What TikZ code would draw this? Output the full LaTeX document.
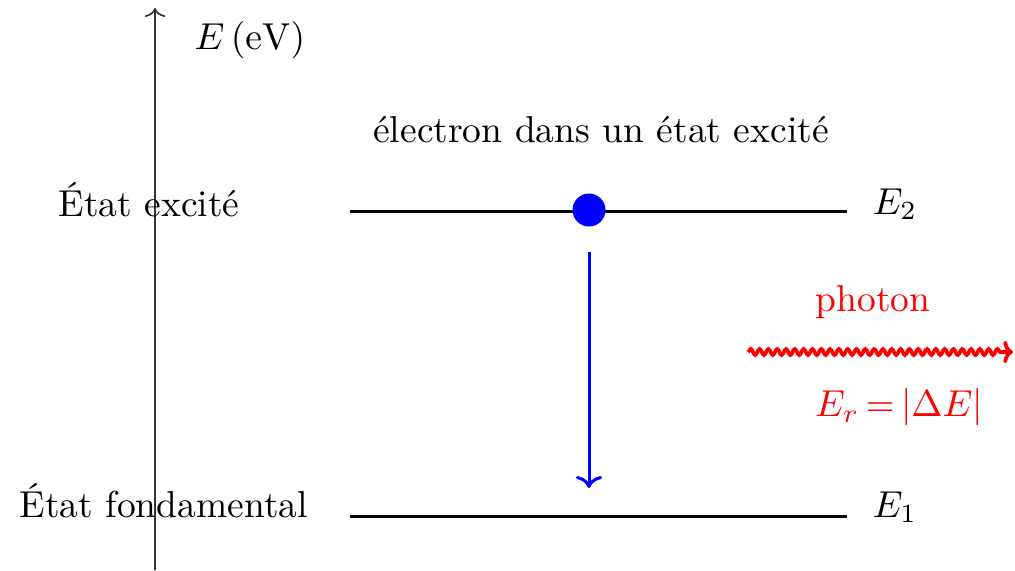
\documentclass[tikz,border=0pt]{standalone}
\usetikzlibrary{decorations.pathmorphing,arrows.meta}
\begin{document}
\begin{tikzpicture}[x=0.2667pt,y=-0.2667pt,
  level/.style={line width=0.8pt,black},
  lbl/.style={inner sep=0pt,anchor=center},
  photonpath/.style={red,line width=1pt,decorate,decoration={snake,amplitude=0.8pt,segment length=2.35pt,post length=2.5pt}}]
\useasboundingbox (0,0) rectangle (1015,570);
% axis
\coordinate (axb) at (155,570);
\coordinate (axt) at (155,8);
\draw[black!80,line width=0.45pt,-{To[length=2.4pt,width=5.5pt]}] (axb) -- (axt);
\node[lbl] (elab) at (250,40) {$E\,(\mathrm{eV})$};
\node[lbl] (title) at (601,130) {électron dans un état excité};
% levels
\coordinate (e2l) at (350,211);
\coordinate (e2r) at (847,211);
\coordinate (e1l) at (350,516);
\coordinate (e1r) at (847,516);
\draw[level] (e2l) -- (e2r);
\draw[level] (e1l) -- (e1r);
\node[lbl,anchor=west] (ee) at (58,200) {État excité};
\node[lbl,anchor=west] (ef) at (19,501) {État fondamental};
\node[lbl] (E2) at (895,204) {$E_2$};
\node[lbl] (E1) at (895,507) {$E_1$};
% electron
\fill[blue] (589,210) circle (4.4pt) coordinate (el);
\coordinate (ta) at (589,252);
\coordinate (tb) at (589,488);
\draw[blue,line width=0.8pt,-{To[length=3.2pt,width=7pt]}] (ta) -- (tb);
% photon
\node[lbl,red] (ph) at (873,302) {photon};
\coordinate (pa) at (748,352);
\coordinate (pb) at (1013,352);
\draw[photonpath,-{To[length=2.6pt,width=6pt]}] (pa) -- (pb);
\node[lbl,red] (er) at (899,407) {$E_r\mskip3mu{=}\mskip3mu|\Delta E|$};
\end{tikzpicture}
\end{document}
